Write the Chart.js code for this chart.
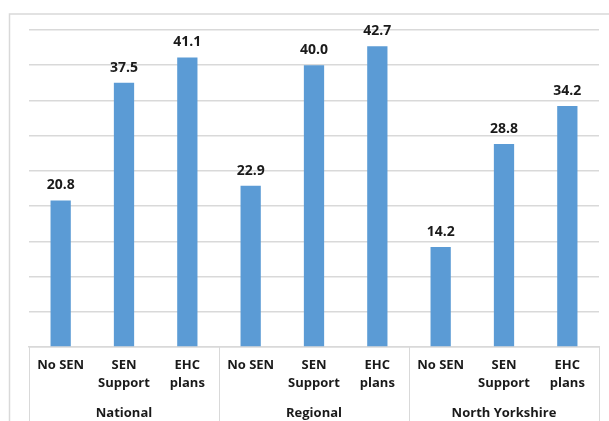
<!DOCTYPE html>
<html>
<head>
<meta charset="utf-8">
<script src="https://cdn.jsdelivr.net/npm/chart.js@4"></script>
<style>
  html, body { margin: 0; padding: 0; background: #fff; }
  #wrap { width: 609px; height: 421px; }
</style>
</head>
<body>
<div id="wrap"><canvas id="myChart" width="609" height="421"></canvas></div>
<script>
// data
var categories = [['No SEN'], ['SEN', 'Support'], ['EHC', 'plans'],
                  ['No SEN'], ['SEN', 'Support'], ['EHC', 'plans'],
                  ['No SEN'], ['SEN', 'Support'], ['EHC', 'plans']];
var groups = ['National', 'Regional', 'North Yorkshire'];
var values = [20.8, 37.5, 41.1, 22.9, 40.0, 42.7, 14.2, 28.8, 34.2];

var lineColor = '#d9d9d9';
var labelFont = { family: 'Open Sans', size: 13, weight: 'bold', lineHeight: 1.4 };

// frame, group separators and the numbers on top of bars
var extras = {
    id: 'extras',
    beforeDraw: function(chart) {
        var c = chart.ctx;
        c.save();
        c.strokeStyle = lineColor;
        c.lineWidth = 1.5;
        c.beginPath();
        c.moveTo(9.5, chart.height);
        c.lineTo(9.5, 14);
        c.lineTo(chart.width, 14);
        c.stroke();
        c.restore();
    },
    afterDraw: function(chart) {
        var c = chart.ctx;
        var x = chart.scales.x;
        var top = chart.chartArea.bottom;
        var xs = [x.left, (x.getPixelForValue(2) + x.getPixelForValue(3)) / 2,
                  (x.getPixelForValue(5) + x.getPixelForValue(6)) / 2, x.right];
        c.save();
        c.strokeStyle = lineColor;
        c.lineWidth = 1;
        xs.forEach(function(px) {
            px = Math.round(px) + 0.5;
            c.beginPath();
            c.moveTo(px, top);
            c.lineTo(px, chart.height);
            c.stroke();
        });
        c.restore();
    },
    afterDatasetsDraw: function(chart) {
        var c = chart.ctx;
        var meta = chart.getDatasetMeta(0);
        c.save();
        c.fillStyle = '#1a1a1a';
        c.font = 'bold 14px "Open Sans"';
        c.textAlign = 'center';
        c.textBaseline = 'middle';
        meta.data.forEach(function(bar, i) {
            c.fillText(values[i].toFixed(1), bar.x, bar.y - 15);
        });
        c.restore();
    }
};

var ctx = document.getElementById('myChart').getContext('2d');
var chart = new Chart(ctx, {
    type: 'bar',
    data: {
        labels: categories,
        datasets: [{
            data: values,
            backgroundColor: '#5b9bd5',
            borderWidth: 0,
            barPercentage: 0.32,
            categoryPercentage: 1
        }]
    },
    options: {
        responsive: false,
        animation: false,
        layout: { padding: { left: 29, right: 10, top: 30, bottom: 0 } },
        plugins: {
            legend: { display: false },
            tooltip: { enabled: false }
        },
        scales: {
            y: {
                min: 0,
                max: 45,
                ticks: { display: false, stepSize: 5 },
                border: { display: false },
                grid: { color: lineColor, lineWidth: 1.5, drawTicks: false }
            },
            x: {
                position: 'bottom',
                grid: { display: false, drawTicks: false },
                border: { display: true, color: lineColor, width: 1.5 },
                ticks: { font: labelFont, color: '#1a1a1a', padding: 9, maxRotation: 0, autoSkip: false },
                afterFit: function(scale) { scale.height = 50; }
            },
            x2: {
                type: 'category',
                position: 'bottom',
                labels: groups,
                grid: { display: false, drawTicks: false },
                border: { display: false },
                ticks: { font: labelFont, color: '#1a1a1a', padding: 7 },
                afterFit: function(scale) { scale.height = 24; }
            }
        }
    },
    plugins: [extras]
});
</script>
</body>
</html>
